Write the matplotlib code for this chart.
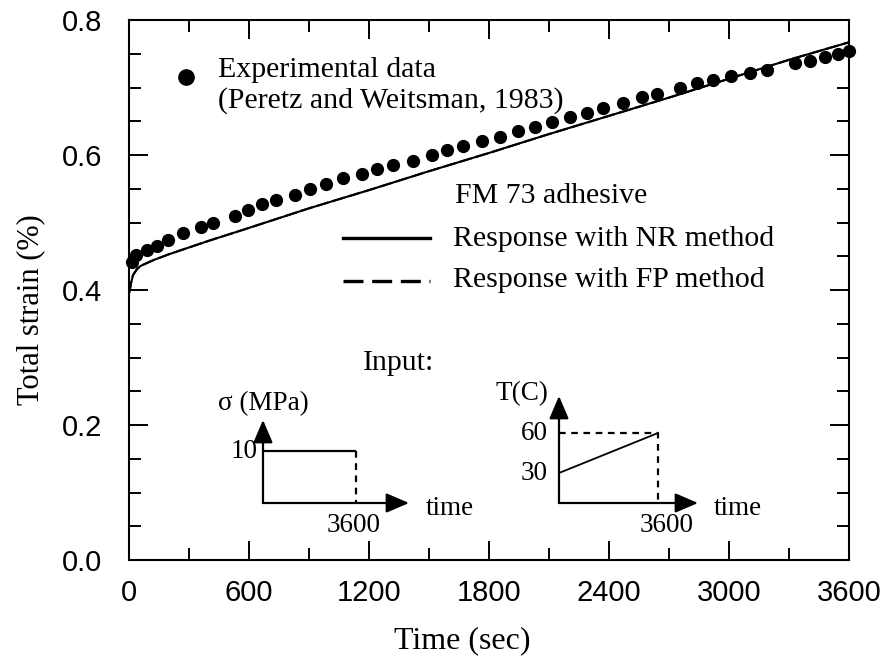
from __future__ import annotations

import matplotlib

matplotlib.use("Agg")

import matplotlib.pyplot as plt
from matplotlib.ticker import MultipleLocator


# Experimental data (Peretz and Weitsman, 1983)
EXP_TIME = [
    15, 35, 90, 140, 195, 270, 360, 420, 530, 595, 665, 735, 830, 905, 985,
    1070, 1165, 1240, 1320, 1420, 1515, 1590, 1670, 1765, 1855, 1945, 2030,
    2115, 2205, 2290, 2370, 2470, 2565, 2640, 2755, 2840, 2920, 3010, 3105,
    3190, 3330, 3405, 3480, 3545, 3600,
]
EXP_STRAIN = [
    0.441, 0.452, 0.459, 0.465, 0.474, 0.484, 0.494, 0.499, 0.510, 0.518,
    0.527, 0.533, 0.541, 0.549, 0.557, 0.566, 0.572, 0.579, 0.585, 0.591,
    0.600, 0.607, 0.613, 0.621, 0.627, 0.636, 0.641, 0.649, 0.656, 0.662,
    0.669, 0.677, 0.686, 0.690, 0.700, 0.707, 0.711, 0.717, 0.722, 0.726,
    0.736, 0.739, 0.745, 0.750, 0.754,
]

# model responses (NR and FP lie on top of each other)
MODEL_TIME = [
    0, 5, 10, 20, 40, 60, 120, 200, 300, 400, 600, 900, 1200, 1500, 1800,
    2100, 2400, 2700, 3000, 3300, 3600,
]
NR_STRAIN = [
    0.395, 0.401, 0.410, 0.422, 0.431, 0.436, 0.444, 0.453, 0.463, 0.473,
    0.492, 0.521, 0.548, 0.576, 0.603, 0.631, 0.658, 0.685, 0.713, 0.741,
    0.767,
]
FP_STRAIN = [
    0.395, 0.401, 0.410, 0.422, 0.431, 0.436, 0.444, 0.453, 0.463, 0.473,
    0.492, 0.521, 0.548, 0.576, 0.603, 0.631, 0.658, 0.685, 0.713, 0.741,
    0.767,
]

# input histories
INPUT_TIME = [0, 3600]
INPUT_STRESS = [10, 10]
INPUT_TEMP = [30, 60]

X_TICKS = [0, 600, 1200, 1800, 2400, 3000, 3600]
Y_TICKS = [0.0, 0.2, 0.4, 0.6, 0.8]

SERIF = ["Liberation Serif", "DejaVu Serif"]
SANS = ["Liberation Sans", "DejaVu Sans"]
FIG_W, FIG_H = 888, 664


def _fig_rect(left: float, top: float, right: float, bottom: float) -> list[float]:
    """Pixel box -> figure fraction rect."""
    return [left / FIG_W, 1 - bottom / FIG_H, (right - left) / FIG_W, (bottom - top) / FIG_H]


def _arrow(ax, start, end) -> None:
    ax.annotate(
        "",
        xy=end,
        xytext=start,
        arrowprops=dict(
            arrowstyle="-|>,head_length=0.7,head_width=0.3",
            color="black",
            lw=1.6,
            shrinkA=0,
            shrinkB=0,
            mutation_scale=20,
        ),
        annotation_clip=False,
    )


def _inset_text(ax, xy, text, dx, dy, ha, va) -> None:
    ax.annotate(
        text,
        xy=xy,
        xytext=(dx, dy),
        textcoords="offset points",
        ha=ha,
        va=va,
        fontsize=19.5,
        family=SERIF,
        annotation_clip=False,
    )


def draw_stress_inset(fig) -> None:
    ax = fig.add_axes(_fig_rect(263, 420, 409, 503))
    ax.set_xlim(0, 3600 * 146 / 93)
    ax.set_ylim(0, 16)
    ax.axis("off")
    xmax = ax.get_xlim()[1]
    ymax = ax.get_ylim()[1]

    ax.plot(INPUT_TIME, INPUT_STRESS, color="black", lw=1.6, solid_capstyle="butt")
    ax.plot([INPUT_TIME[-1]] * 2, [INPUT_STRESS[-1], 0], color="black", lw=1.6,
            linestyle=(0, (3, 2.5)))
    _arrow(ax, (0, 0), (xmax, 0))
    _arrow(ax, (0, 0), (0, ymax))

    _inset_text(ax, (0, INPUT_STRESS[0]), "10", -4, 0, "right", "center")
    _inset_text(ax, (INPUT_TIME[-1], 0), "3600", -2, -16, "center", "center")
    _inset_text(ax, (xmax, 0), "time", 12, -4, "left", "center")
    _inset_text(ax, (0, ymax), "σ (MPa)", 0, 12, "center", "center")


def draw_temperature_inset(fig) -> None:
    ax = fig.add_axes(_fig_rect(559, 396, 698, 503))
    ax.set_xlim(0, 3600 * 139 / 99)
    ax.set_ylim(7.5, 87.75)
    ax.axis("off")
    xmax = ax.get_xlim()[1]
    ymin, ymax = ax.get_ylim()

    ax.plot(INPUT_TIME, INPUT_TEMP, color="black", lw=1.3)
    ax.plot([0, INPUT_TIME[-1], INPUT_TIME[-1]], [INPUT_TEMP[-1], INPUT_TEMP[-1], ymin],
            color="black", lw=1.6, linestyle=(0, (3, 2.5)))
    _arrow(ax, (0, ymin), (xmax, ymin))
    _arrow(ax, (0, ymin), (0, ymax))

    _inset_text(ax, (0, INPUT_TEMP[-1]), "60", -8, 0, "right", "center")
    _inset_text(ax, (0, INPUT_TEMP[0]), "30", -8, 0, "right", "center")
    _inset_text(ax, (INPUT_TIME[-1], ymin), "3600", 6, -16, "center", "center")
    _inset_text(ax, (xmax, ymin), "time", 11, -4, "left", "center")
    _inset_text(ax, (0, ymax), "T(C)", -8, 2, "right", "center")


def main() -> None:
    fig = plt.figure(figsize=(FIG_W / 100, FIG_H / 100), dpi=100)
    ax = fig.add_axes(_fig_rect(129, 20, 849, 560))

    ax.plot(MODEL_TIME, NR_STRAIN, color="black", lw=1.5)
    ax.plot(MODEL_TIME, FP_STRAIN, color="black", lw=1.5, linestyle=(0, (6, 2)))
    ax.plot(EXP_TIME, EXP_STRAIN, "o", color="black", ms=8.5, clip_on=False)

    ax.set_xlim(0, 3600)
    ax.set_ylim(0.0, 0.8)
    ax.set_xticks(X_TICKS)
    ax.set_yticks(Y_TICKS)
    ax.set_xticklabels([f"{t}" for t in X_TICKS], family=SANS, fontsize=21)
    ax.set_yticklabels([f"{v:.1f}" for v in Y_TICKS], family=SANS, fontsize=21)
    ax.xaxis.set_minor_locator(MultipleLocator(300))
    ax.yaxis.set_minor_locator(MultipleLocator(0.05))
    ax.tick_params(which="both", direction="in", top=True, right=True, width=1.4)
    ax.tick_params(which="major", length=14)
    ax.tick_params(which="minor", length=8.5)
    ax.tick_params(axis="x", which="major", pad=14)
    ax.tick_params(axis="y", which="major", pad=19)
    for spine in ax.spines.values():
        spine.set_linewidth(1.5)

    ax.set_xlabel("Time (sec)", family=SERIF, fontsize=23)
    ax.set_ylabel("Total strain (%)", family=SERIF, fontsize=22)
    ax.xaxis.set_label_coords((462 - 129) / 720, -(626 - 560) / 540)
    ax.yaxis.set_label_coords((45 - 129) / 720, (560 - 310) / 540)

    # hand-made legend
    tr = ax.transAxes
    legend_size = 21.5
    ax.plot([(186 - 129) / 720], [(560 - 77) / 540], "o", color="black", ms=11,
            transform=tr)
    ax.text((218 - 129) / 720, (560 - 77) / 540, "Experimental data", transform=tr,
            family=SERIF, fontsize=legend_size, va="baseline")
    ax.text((218 - 129) / 720, (560 - 108) / 540, "(Peretz and Weitsman, 1983)",
            transform=tr, family=SERIF, fontsize=legend_size, va="baseline")
    ax.text((455 - 129) / 720, (560 - 203) / 540, "FM 73 adhesive", transform=tr,
            family=SERIF, fontsize=legend_size, va="baseline")
    ax.plot([(343 - 129) / 720, (430 - 129) / 720], [(560 - 238) / 540] * 2,
            color="black", lw=2.4, transform=tr)
    ax.plot([(343 - 129) / 720, (430 - 129) / 720], [(560 - 281) / 540] * 2,
            color="black", lw=2.4, linestyle=(0, (6, 2.6)), transform=tr)
    ax.text((453 - 129) / 720, (560 - 246) / 540, "Response with NR method",
            transform=tr, family=SERIF, fontsize=legend_size, va="baseline")
    ax.text((453 - 129) / 720, (560 - 287) / 540, "Response with FP method",
            transform=tr, family=SERIF, fontsize=legend_size, va="baseline")

    fig.text(398 / FIG_W, 1 - 363 / FIG_H, "Input:", family=SERIF, fontsize=21.5,
             ha="center", va="center")
    draw_stress_inset(fig)
    draw_temperature_inset(fig)

    fig.savefig("out.png", dpi=100)
    plt.close(fig)


if __name__ == "__main__":
    main()
